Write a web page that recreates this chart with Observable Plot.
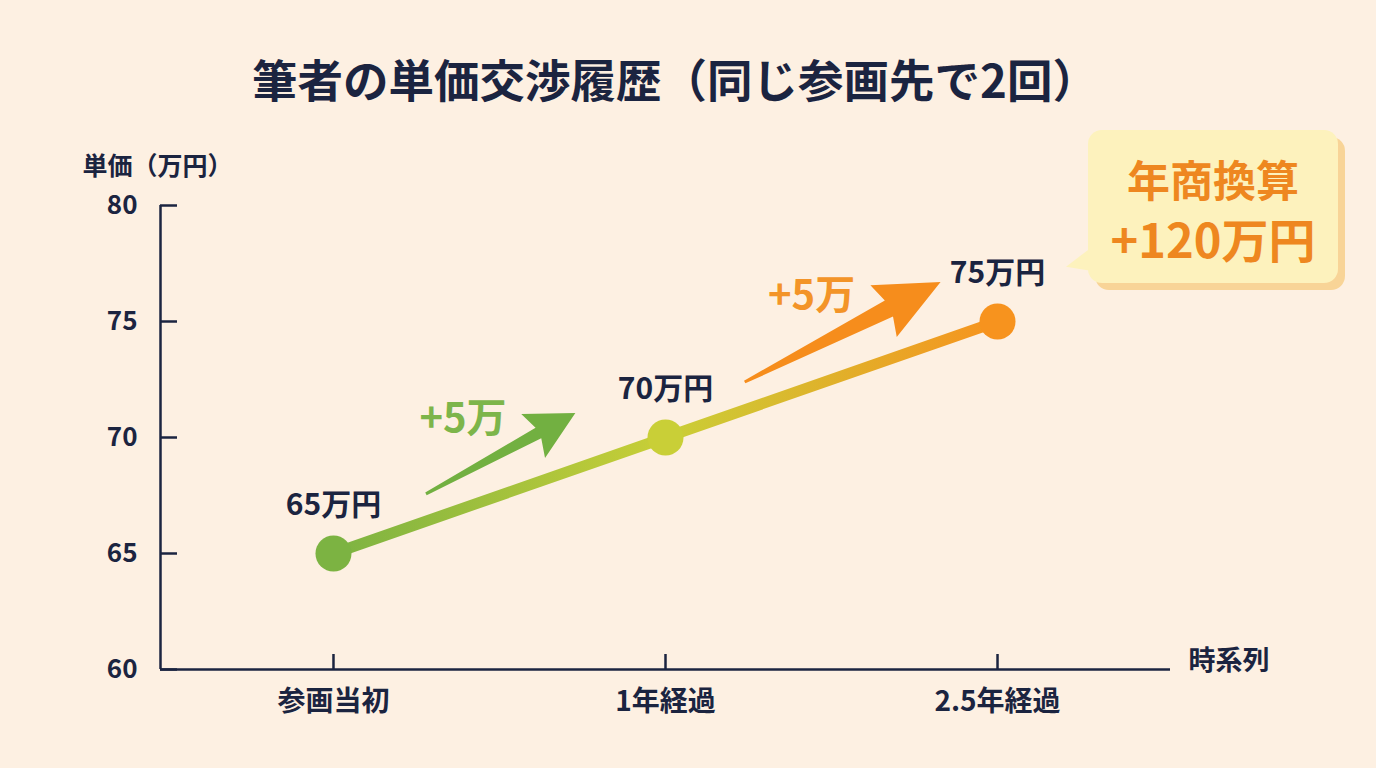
<!DOCTYPE html>
<html><head><meta charset="utf-8">
<script src="https://cdn.jsdelivr.net/npm/d3@7"></script>
<script src="https://cdn.jsdelivr.net/npm/@observablehq/plot@0.6"></script>
<style>
html,body{margin:0;padding:0;background:#fdf0e2;}
body{width:1376px;height:768px;overflow:hidden;position:relative;font-family:"Noto Sans CJK JP","Noto Sans",sans-serif;}
#title{height:130px;box-sizing:border-box;padding-top:53px;padding-right:26px;text-align:center;font-size:45.5px;font-weight:700;color:#1b2440;line-height:50px;}
#chart svg{display:block;}
#callout{position:absolute;left:1088px;top:130px;width:250px;height:153px;background:#fdf2bd;border-radius:14px;box-shadow:7px 7px 0 #f8d497;}
#tail{position:absolute;left:1066px;top:247px;width:26px;height:24px;background:#fdf2bd;clip-path:polygon(100% 0,0 82%,100% 100%);}
.cl{position:absolute;left:0;width:100%;text-align:center;font-weight:700;color:#ee8720;}
#cl1{top:22px;font-size:43px;line-height:52px;}
#cl2{top:80px;font-size:47px;line-height:56px;}
</style>
</head><body>
<div id="title">筆者の単価交渉履歴（同じ参画先で2回）</div>
<div id="chart"></div>
<div id="tail"></div>
<div id="callout"><div class="cl" id="cl1">年商換算</div><div class="cl" id="cl2">+120万円</div></div>
<script>
// ---- data ----
const categories = ["参画当初", "1年経過", "2.5年経過"];
const prices = [65, 70, 75];
const priceLabels = ["65万円", "70万円", "75万円"];
const yTicks = [60, 65, 70, 75, 80];
const yLabel = "単価（万円）";
const xLabel = "時系列";
const gainLabels = ["+5万", "+5万"];
const gainLabelX = [0.39, 1.44];
const gainLabelY = [70.8, 76.1];
const arrowX1 = [0.28, 1.24];
const arrowY1 = [67.55, 72.37];
const arrowX2 = [0.73, 1.83];
const arrowY2 = [71.03, 76.68];

// ---- styles ----
const ink = "#1b2440";
const pointColors = ["#7cb342", "#c9cf37", "#f7931e"];
const arrowColors = ["#72b041", "#f68d1c"];
const gainColors = ["#7db54a", "#f39428"];
const arrowHeadLen = [42, 58];
const arrowHeadWidth = [50, 58];
const arrowShaftWidth = [12, 18];

const points = categories.map((c, i) => ({i, category: c, price: prices[i], label: priceLabels[i]}));
const xPad = 0.521;

const gradientDefs = () => {
  const defs = d3.create("svg:defs");
  const g = defs.append("linearGradient").attr("id", "lineGrad")
    .attr("x1", "0%").attr("x2", "100%").attr("y1", "0%").attr("y2", "0%");
  g.append("stop").attr("offset", "0%").attr("stop-color", pointColors[0]);
  g.append("stop").attr("offset", "50%").attr("stop-color", pointColors[1]);
  g.append("stop").attr("offset", "100%").attr("stop-color", pointColors[2]);
  return defs.node();
};

const arrowsMark = (index, scales) => {
  const g = d3.create("svg:g");
  arrowX1.forEach((_, k) => {
    const x1 = scales.x(arrowX1[k]), y1 = scales.y(arrowY1[k]);
    const x2 = scales.x(arrowX2[k]), y2 = scales.y(arrowY2[k]);
    const dx = x2 - x1, dy = y2 - y1, L = Math.hypot(dx, dy);
    const ux = dx / L, uy = dy / L, nx = -uy, ny = ux;
    const hl = arrowHeadLen[k], hw = arrowHeadWidth[k] / 2, sw = arrowShaftWidth[k] / 2, tw = 1.5;
    const bx = x2 - ux * hl, by = y2 - uy * hl;
    const wx = bx - ux * 6, wy = by - uy * 6;
    const pts = [
      [x1 + nx * tw, y1 + ny * tw],
      [bx + nx * sw, by + ny * sw],
      [wx + nx * hw, wy + ny * hw],
      [x2, y2],
      [wx - nx * hw, wy - ny * hw],
      [bx - nx * sw, by - ny * sw],
      [x1 - nx * tw, y1 - ny * tw]
    ];
    g.append("path").attr("d", "M" + pts.map(p => p.join(",")).join("L") + "Z").attr("fill", arrowColors[k]);
  });
  return g.node();
};

const plot = Plot.plot({
  width: 1376,
  height: 638,
  marginLeft: 160,
  marginRight: 206,
  marginTop: 75,
  marginBottom: 99,
  x: {type: "linear", domain: [-xPad, categories.length - 1 + xPad], axis: null, label: null},
  y: {domain: [yTicks[0], yTicks[yTicks.length - 1]], axis: null, label: null},
  color: {type: "identity"},
  style: {background: "transparent", fontFamily: "'Noto Sans CJK JP','Noto Sans',sans-serif", color: ink, overflow: "visible"},
  marks: [
    gradientDefs,
    Plot.ruleX([-xPad], {stroke: ink, strokeWidth: 2.5}),
    Plot.ruleY([yTicks[0]], {stroke: ink, strokeWidth: 2.5}),
    Plot.axisY({ticks: yTicks, tickSize: -17, fill: "none", stroke: ink, strokeWidth: 2.5, label: null}),
    Plot.axisY({ticks: yTicks, tickSize: 0, tickPadding: 23, fontSize: 26, fontWeight: 700, fill: ink, label: null}),
    Plot.axisX({ticks: [0, 1, 2], tickSize: -15, fill: "none", stroke: ink, strokeWidth: 2.5, label: null}),
    Plot.axisX({ticks: [0, 1, 2], tickSize: 0, tickPadding: 22, tickFormat: i => categories[i], fontSize: 28, fontWeight: 700, fill: ink, label: null}),
    Plot.text([yLabel], {frameAnchor: "top-left", dx: -78, dy: -48, textAnchor: "start", fontSize: 25, fontWeight: 700, fill: ink}),
    Plot.text([xLabel], {frameAnchor: "bottom-right", dx: 18, textAnchor: "start", fontSize: 27, fontWeight: 700, fill: ink}),
    arrowsMark,
    Plot.text(gainLabels, {x: (d, i) => gainLabelX[i], y: (d, i) => gainLabelY[i], text: d => d, fill: (d, i) => gainColors[i], fontSize: 40, fontWeight: 700}),
    Plot.line(points, {x: "i", y: "price", stroke: "url(#lineGrad)", strokeWidth: 11, strokeLinecap: "round"}),
    Plot.dot(points, {x: "i", y: "price", r: 18, fill: d => pointColors[d.i], stroke: "none"}),
    Plot.text(points, {x: "i", y: "price", text: "label", dy: -48, fontSize: 30, fontWeight: 700, fill: ink})
  ]
});
document.getElementById("chart").append(plot);
</script>
</body></html>
